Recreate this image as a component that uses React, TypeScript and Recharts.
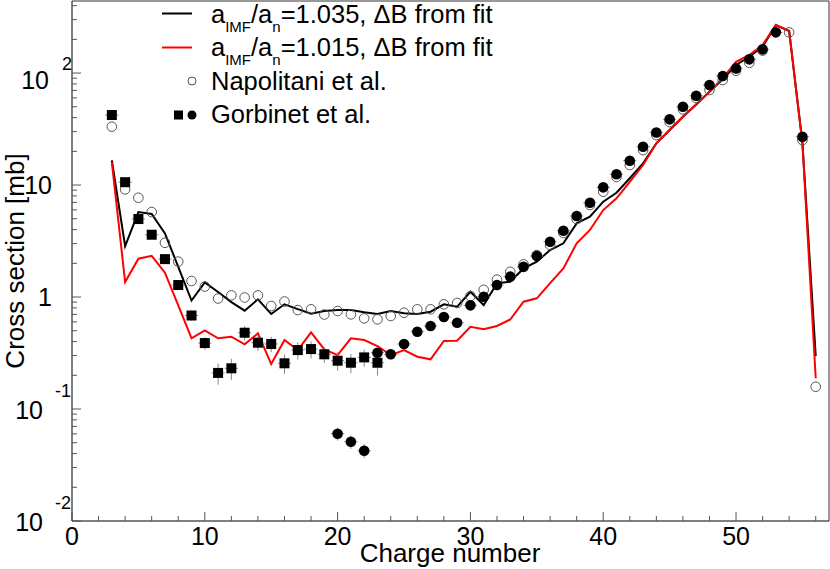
import { ComposedChart, Line, Scatter, XAxis, YAxis, ErrorBar, ReferenceLine } from 'recharts';

// charge numbers of the two model curves
const charge = [3, 4, 5, 6, 7, 8, 9, 10, 11, 12, 13, 14, 15, 16, 17, 18, 19, 20, 21, 22, 23, 24, 25, 26, 27, 28, 29,
  30, 31, 32, 33, 34, 35, 36, 37, 38, 39, 40, 41, 42, 43, 44, 45, 46, 47, 48, 49, 50, 51, 52, 53, 54, 55, 56];
// a_IMF/a_n = 1.035
const fit1035 = [16.6, 2.85, 5.74, 5.51, 3.7, 1.86, 0.93, 1.35, 1.11, 0.9, 0.755, 0.954, 0.705, 0.862, 0.78, 0.71, 0.75,
  0.765, 0.765, 0.73, 0.705, 0.75, 0.715, 0.705, 0.739, 0.861, 0.819, 1.115, 0.848, 1.33, 1.37, 1.8, 2.07, 2.63, 3.02,
  4.55, 5.21, 7.1, 8.54, 11.5, 15.6, 23.6, 31.0, 40.7, 52.5, 68.1, 87.8, 118, 140, 172, 268, 237, 23.7, 0.297];
// a_IMF/a_n = 1.015
const fit1015 = [16.0, 1.36, 2.2, 2.33, 1.65, 0.843, 0.428, 0.504, 0.428, 0.442, 0.378, 0.474, 0.252, 0.413, 0.336, 0.484,
  0.341, 0.303, 0.428, 0.413, 0.365, 0.303, 0.336, 0.293, 0.278, 0.405, 0.407, 0.543, 0.515, 0.551, 0.63, 0.908, 0.974,
  1.33, 1.8, 3.02, 3.97, 5.98, 7.61, 10.7, 15.1, 23.6, 31.0, 40.7, 52.5, 68.1, 90, 126, 145, 178, 268, 239, 23.7, 0.188];

// Napolitani et al.
const napZ = [3, 4, 5, 6, 7, 8, 9, 10, 11, 12, 13, 14, 15, 16, 17, 18, 19, 20, 21, 22, 23, 24, 25, 26, 27, 28, 29, 30,
  31, 32, 33, 34, 35, 36, 37, 38, 39, 40, 41, 42, 43, 44, 45, 46, 47, 48, 49, 50, 51, 52, 54, 55, 56];
const napVal = [33.2, 9.15, 7.7, 5.74, 3.05, 2.07, 1.39, 1.24, 0.97, 1.035, 0.99, 1.035, 0.831, 0.912, 0.765, 0.777, 0.698,
  0.75, 0.7, 0.645, 0.632, 0.677, 0.724, 0.777, 0.777, 0.861, 0.884, 1.02, 1.16, 1.43, 1.68, 1.96, 2.37, 2.91, 3.73, 4.97,
  6.63, 8.71, 11.8, 15.1, 20.5, 27.9, 36.5, 47.4, 59.8, 70.5, 86.6, 104.8, 123.6, 158.8, 230.9, 25.2, 0.158];

// Gorbinet et al. (squares)
const gorSqZ = [3, 4, 5, 6, 7, 8, 9, 10, 11, 12, 13, 14, 15, 16, 17, 18, 19, 20, 21, 22, 23];
const gorSqVal = [42.2, 10.6, 4.97, 3.6, 2.18, 1.28, 0.684, 0.388, 0.21, 0.231, 0.48, 0.391, 0.381, 0.256, 0.336, 0.343,
  0.308, 0.27, 0.259, 0.289, 0.259];
const gorSqErr = [3, 0.8, 0.4, 0.3, 0.2, 0.12, 0.07, 0.05, 0.045, 0.05, 0.07, 0.06, 0.06, 0.05, 0.06, 0.06, 0.05, 0.05,
  0.05, 0.05, 0.06];

// Gorbinet et al. (circles)
const gorCiZ = [20, 21, 22, 23, 24, 25, 26, 27, 28, 29, 30, 31, 32, 33, 34, 35, 36, 37, 38, 39, 40, 41, 42, 43, 44, 45,
  46, 47, 48, 49, 50, 51, 52, 53, 55];
const gorCiVal = [0.0602, 0.051, 0.0424, 0.318, 0.308, 0.381, 0.49, 0.551, 0.663, 0.589, 0.843, 1.006, 1.28, 1.52, 1.86,
  2.32, 3.12, 3.91, 5.29, 6.95, 9.54, 12.5, 16.5, 22.0, 29.5, 38.6, 50.0, 62.7, 78.1, 94.0, 110, 132.6, 162.8, 230.9, 27.0];
const gorCiErr = [0.008, 0.007, 0.006, 0.03, 0.03, 0.03, 0.04, 0.04, 0.05, 0.04, 0.05, 0.06, 0.07, 0.08, 0.09, 0.1, 0.14,
  0.17, 0.22, 0.28, 0.38, 0.5, 0.65, 0.85, 1.1, 1.5, 1.9, 2.4, 3, 3.6, 4.2, 5, 6, 9, 1.2];

const xTicks = [0, 2, 4, 6, 8, 10, 12, 14, 16, 18, 20, 22, 24, 26, 28, 30, 32, 34, 36, 38, 40, 42, 44, 46, 48, 50, 52, 54, 56];
const yMajors = [0.01, 0.1, 1, 10, 100];
const yLabels = ['10|-2', '10|-1', '1', '10', '10|2'];

const FONT = '"Liberation Sans", Arial, Helvetica, sans-serif';

const fitData = charge.map((z, i) => ({ z, a: fit1035[i], b: fit1015[i] }));
const napData = napZ.map((z, i) => ({ z, v: napVal[i] }));
const sqData = gorSqZ.map((z, i) => ({ z, v: gorSqVal[i], ey: gorSqErr[i], ex: 0.5 }));
const ciData = gorCiZ.map((z, i) => ({ z, v: gorCiVal[i], ey: gorCiErr[i], ex: 0.5 }));

const yTicks: number[] = [];
yMajors.forEach((d) => {
  for (let m = 1; m <= 9; m++) {
    const v = +(m * d).toPrecision(3);
    if (v <= 440) yTicks.push(v);
  }
});

const XTick = ({ x, y, payload }: any) => {
  const major = payload.value % 10 === 0;
  return (
    <g>
      <line x1={x} x2={x} y1={y} y2={y - (major ? 9 : 5)} stroke="#555" />
      {major && (
        <text x={x} y={y + 24} textAnchor="middle" fontSize={25} fontFamily={FONT} fill="#000">
          {payload.value}
        </text>
      )}
    </g>
  );
};

const YTick = ({ x, y, payload }: any) => {
  const idx = yMajors.findIndex((m) => Math.abs(m - payload.value) < m * 1e-6);
  const major = idx >= 0;
  let label = null;
  if (major) {
    const [base, exp] = yLabels[idx].split('|');
    if (!exp) {
      label = (
        <text x={x - 20} y={y + 9} textAnchor="end" fontSize={25} fontFamily={FONT} fill="#000">{base}</text>
      );
    } else {
      const neg = exp.startsWith('-');
      label = (
        <g fontFamily={FONT} fill="#000">
          <text x={neg ? x - 29 : x - 23} y={y + (neg ? 10 : 16)} textAnchor="end" fontSize={25}>{base}</text>
          <text x={neg ? x - 17 : x - 10} y={y + (neg ? -12 : -3)} fontSize={18}>{exp}</text>
        </g>
      );
    }
  }
  return (
    <g>
      <line x1={x} x2={x + (major ? 9 : 5)} y1={y} y2={y} stroke="#555" />
      {label}
    </g>
  );
};

const OpenCircle = ({ cx, cy }: any) => <circle cx={cx} cy={cy} r={4.8} fill="none" stroke="#555" strokeWidth={1} />;
const FilledSquare = ({ cx, cy }: any) => <rect x={cx - 5} y={cy - 5} width={10} height={10} fill="#000" />;
const FilledCircle = ({ cx, cy }: any) => <circle cx={cx} cy={cy} r={5.3} fill="#000" />;

export default function App() {
  return (
    <div style={{ position: 'absolute', left: 0, top: 0, width: 830, height: 569, background: '#fff' }}>
      <ComposedChart width={830} height={569} data={fitData} margin={{ top: 1, right: 1, left: 0, bottom: 0 }}>
        <XAxis dataKey="z" type="number" domain={[0, 57]} ticks={xTicks} interval={0} tickSize={0} tickMargin={0}
          tick={<XTick />} height={48} axisLine={{ stroke: '#000' }} allowDataOverflow />
        <YAxis type="number" scale="log" domain={[0.01, 440]} ticks={yTicks} interval={0} tickSize={0} tickMargin={0}
          tick={<YTick />} width={72} axisLine={{ stroke: '#000' }} allowDataOverflow />
        <ReferenceLine y={440} stroke="#333" />
        <ReferenceLine x={57} stroke="#333" />
        <Line type="linear" dataKey="a" stroke="#000" strokeWidth={2} dot={false} isAnimationActive={false} />
        <Line type="linear" dataKey="b" stroke="#ff0000" strokeWidth={2} dot={false} isAnimationActive={false} />
        <Scatter data={napData} dataKey="v" shape={<OpenCircle />} isAnimationActive={false} />
        <Scatter data={sqData} dataKey="v" shape={<FilledSquare />} isAnimationActive={false}>
          <ErrorBar dataKey="ey" direction="y" width={0} stroke="#888" strokeWidth={1} />
          <ErrorBar dataKey="ex" direction="x" width={0} stroke="#888" strokeWidth={1} />
        </Scatter>
        <Scatter data={ciData} dataKey="v" shape={<FilledCircle />} isAnimationActive={false}>
          <ErrorBar dataKey="ey" direction="y" width={0} stroke="#888" strokeWidth={1} />
          <ErrorBar dataKey="ex" direction="x" width={0} stroke="#888" strokeWidth={1} />
        </Scatter>
      </ComposedChart>
      <svg width={830} height={569} style={{ position: 'absolute', left: 0, top: 0, pointerEvents: 'none' }}
        fontFamily={FONT}>
        <text x={450} y={562} textAnchor="middle" fontSize={26}>Charge number</text>
        <text transform="translate(24,261) rotate(-90)" textAnchor="middle" fontSize={26}>Cross section [mb]</text>
        <line x1={162} x2={192} y1={13.5} y2={13.5} stroke="#000" strokeWidth={2} />
        <text x={211} y={23} fontSize={25.5}>
          a<tspan fontSize={15} dy={9}>IMF</tspan><tspan dy={-9}>/a</tspan><tspan fontSize={15} dy={9}>n</tspan>
          <tspan dy={-9}>=1.035, ΔB from fit</tspan>
        </text>
        <line x1={162} x2={192} y1={47.5} y2={47.5} stroke="#ff0000" strokeWidth={2} />
        <text x={211} y={56} fontSize={25.5}>
          a<tspan fontSize={15} dy={9}>IMF</tspan><tspan dy={-9}>/a</tspan><tspan fontSize={15} dy={9}>n</tspan>
          <tspan dy={-9}>=1.015, ΔB from fit</tspan>
        </text>
        <circle cx={192} cy={81} r={4} fill="none" stroke="#555" />
        <text x={211} y={89.5} fontSize={25.5}>Napolitani et al.</text>
        <rect x={174} y={110.5} width={9} height={9} fill="#000" />
        <circle cx={192} cy={115} r={4.5} fill="#000" />
        <text x={211} y={123} fontSize={25.5}>Gorbinet et al.</text>
      </svg>
    </div>
  );
}
